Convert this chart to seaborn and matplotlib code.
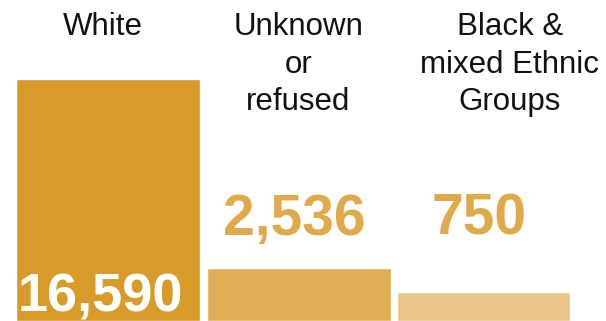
import matplotlib
matplotlib.use("Agg")
import matplotlib.pyplot as plt
import matplotlib.transforms as mtransforms
import seaborn as sns
import pandas as pd

# ---- data ----
categories = ["White", "Unknown\nor\nrefused", "Black &\nmixed Ethnic\nGroups"]
values = [16590, 2536, 750]
value_labels = ["16,590", "2,536", "750"]

# ---- styles / layout ----
bar_colors = ["#D89B2A", "#E0AF55", "#E8C588"]
num_colors = ["#FFFFFF", "#E0A94A", "#E0A94A"]
num_sizes = [39, 41, 41]
bar_widths = [0.966, 0.966, 0.908]
label_dx = [-0.025, 0.0, 0.11]
num_dx = [-0.039, -0.02, -0.05]
num_y = [0.03, 0.268, 0.268]
Y_MIN = -1400  # axis floor; bars extend down to it

sns.set_theme(style="white")
plt.rcParams["font.family"] = ["Liberation Sans", "DejaVu Sans"]

df = pd.DataFrame({"cat": categories, "val": values})

fig = plt.figure(figsize=(6.06, 3.21), dpi=100)
ax = fig.add_axes([0, 0, 1, 1])
sns.barplot(data=df, x="cat", y="val", hue="cat", palette=bar_colors,
            legend=False, width=0.966, ax=ax, saturation=1)

# adjust widths keeping left edges, and extend bars down to the axis floor
for p, w in zip(ax.patches, bar_widths):
    left = p.get_x()
    top = p.get_y() + p.get_height()
    p.set_width(w)
    p.set_x(left)
    p.set_y(Y_MIN)
    p.set_height(top - Y_MIN)

ax.set_xlim(-0.567, 2.614)
ax.set_ylim(Y_MIN, 22466)
ax.axis("off")

trans = mtransforms.blended_transform_factory(ax.transData, ax.transAxes)

for i, (c, dx) in enumerate(zip(categories, label_dx)):
    ax.text(i + dx, 0.962, c, transform=trans, ha="center", va="top",
            fontsize=22.5, color="#111111", linespacing=1.32)

for i, (t, dx) in enumerate(zip(value_labels, num_dx)):
    ax.text(i + dx, num_y[i], t, transform=trans, ha="center", va="baseline",
            fontsize=num_sizes[i], fontweight="bold", color=num_colors[i])

fig.savefig("out.png", dpi=100)
